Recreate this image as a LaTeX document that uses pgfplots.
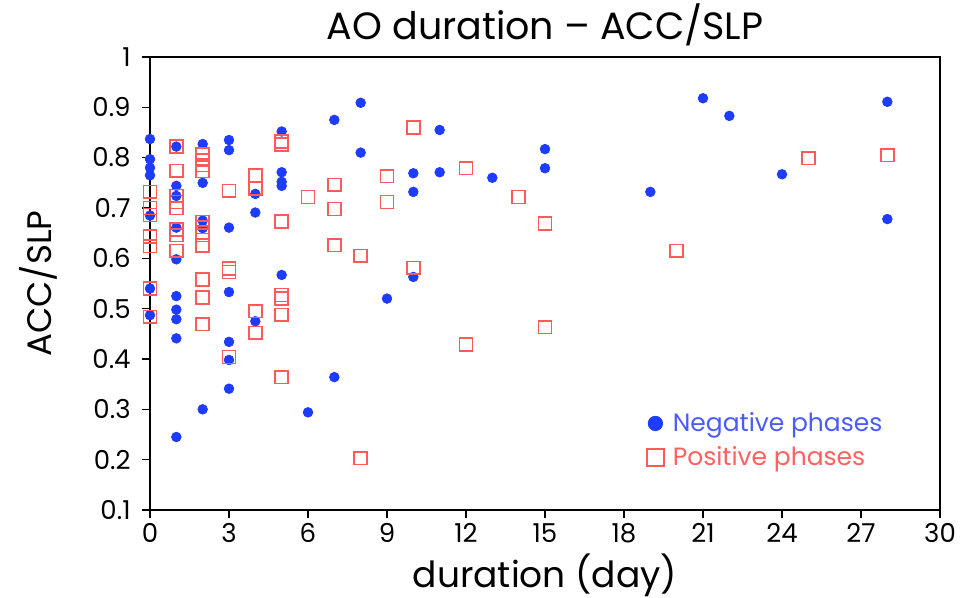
\documentclass[border=0pt]{standalone}
\usepackage{fontspec}
\setmainfont{Poppins}
\usepackage{pgfplots}
\pgfplotsset{compat=1.18}
\definecolor{negblue}{HTML}{1E3CFF}
\definecolor{posred}{HTML}{FF5A5A}
\definecolor{negtext}{HTML}{4A5CFF}
\definecolor{postext}{HTML}{FF6060}

\begin{document}
\begin{tikzpicture}
\begin{axis}[
    width=395pt, height=226.5pt,
    scale only axis,
    xmin=0, xmax=30, ymin=0.1, ymax=1,
    xtick={0,3,...,30},
    ytick={0.1,0.2,...,1.01},
    yticklabels={0.1,0.2,0.3,0.4,0.5,0.6,0.7,0.8,0.9,1},
    tick align=outside,
    tick pos=left,
    major tick length=4pt,
    axis line style={line width=1pt},
    every tick/.style={black, line width=0.8pt},
    tick label style={font=\fontsize{13}{15}\selectfont},
    xticklabel style={anchor=base, yshift=-12.5pt},
    yticklabel style={anchor=east, inner sep=0pt, xshift=-5.5pt},
    /pgf/number format/assume math mode=true,
    title={AO duration -- ACC/SLP},
    title style={font=\fontsize{19}{21}\selectfont, inner sep=0pt, at={(rel axis cs:0.5,1)}, anchor=base, yshift=2.5pt},
    xlabel={duration (day)},
    xlabel style={font=\fontsize{18}{20}\selectfont, inner sep=0pt, at={(rel axis cs:0.5,0)}, anchor=base, yshift=-39pt},
    ylabel={ACC/SLP},
    ylabel style={font=\fontsize{17}{19}\selectfont, inner sep=0pt, at={(rel axis cs:0,0.5)}, anchor=center, yshift=56pt},
    clip=false,
    legend style={draw=none, fill=none, at={(0.621,0.1535)}, anchor=west,
        font=\fontsize{12.5}{14}\selectfont, row sep=2pt,
        /tikz/every odd column/.append style={column sep=2.5pt}},
    legend cell align=left,
]
\addplot[only marks, mark=*, mark size=2.4pt, color=negblue,
    legend image post style={mark size=3.6pt}] coordinates {
(0,0.837)(0,0.797)(0,0.78)(0,0.765)(0,0.685)(0,0.54)(0,0.487)
(1,0.822)(1,0.744)(1,0.724)(1,0.661)(1,0.598)(1,0.525)(1,0.498)(1,0.479)(1,0.441)(1,0.245)
(2,0.827)(2,0.75)(2,0.675)(2,0.66)(2,0.30)
(3,0.835)(3,0.815)(3,0.661)(3,0.533)(3,0.434)(3,0.398)(3,0.341)
(4,0.728)(4,0.691)(4,0.475)
(5,0.852)(5,0.771)(5,0.752)(5,0.744)(5,0.567)
(6,0.294)
(7,0.875)(7,0.364)
(8,0.909)(8,0.81)
(9,0.52)
(10,0.769)(10,0.732)(10,0.563)
(11,0.855)(11,0.771)
(13,0.76)
(15,0.817)(15,0.779)
(19,0.732)
(21,0.918)
(22,0.883)
(24,0.767)
(28,0.911)(28,0.678)
};
\addlegendentry{\textcolor{negtext}{Negative phases}}
\addplot[only marks, mark=square, mark size=3.2pt, color=posred, mark options={line width=0.8pt},
    legend image post style={mark size=4.2pt}] coordinates {
(0,0.732)(0,0.70)(0,0.686)(0,0.643)(0,0.624)(0,0.54)(0,0.484)
(1,0.822)(1,0.774)(1,0.724)(1,0.712)(1,0.70)(1,0.657)(1,0.646)(1,0.615)
(2,0.806)(2,0.795)(2,0.785)(2,0.773)(2,0.672)(2,0.662)(2,0.652)(2,0.646)(2,0.625)(2,0.558)(2,0.522)(2,0.469)
(3,0.734)(3,0.58)(3,0.573)(3,0.404)
(4,0.765)(4,0.739)(4,0.495)(4,0.452)
(5,0.832)(5,0.826)(5,0.673)(5,0.527)(5,0.52)(5,0.488)(5,0.364)
(6,0.722)
(7,0.746)(7,0.698)(7,0.626)
(8,0.605)(8,0.203)
(9,0.763)(9,0.712)
(10,0.86)(10,0.581)
(12,0.779)(12,0.429)
(14,0.722)
(15,0.669)(15,0.463)
(20,0.615)
(25,0.799)
(28,0.805)
};
\addlegendentry{\textcolor{postext}{Positive phases}}
\path ([shift={(-75pt,-44pt)}]rel axis cs:0,0) rectangle ([shift={(11.5pt,28.5pt)}]rel axis cs:1,1);
\end{axis}
\end{tikzpicture}
\end{document}
